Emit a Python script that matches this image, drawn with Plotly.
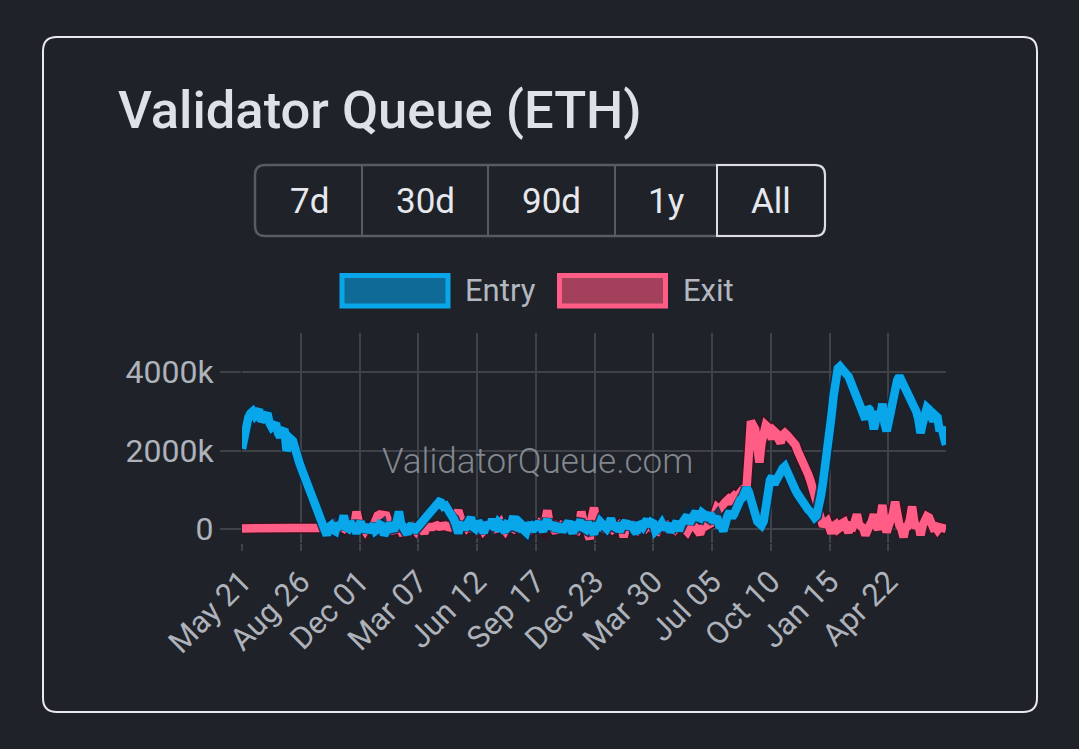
import plotly.graph_objects as go
import pandas as pd

# ---------------- data (values in thousands of ETH, samples every 3.5 days) ----------------
start_date = "2023-05-21"
step = "84h"

entry_k = [
    2050, 2300, 2750, 2850, 2950, 3000, 2900, 2950, 3050, 2750,
    2850, 2950, 2950, 2700, 2600, 2650, 2700, 2450, 2350, 2500,
    2550, 2000, 2150, 2300, 2250, 2000, 1800, 1700, 1550, 1400,
    1250, 1150, 1000, 800, 650, 600, 450, 300, 150, 50,
    -150, 60, 100, -20, -50, 150, 80, 120, 350, 50,
    20, 180, 120, 30, -100, 60, 200, -50, 50, 100,
    -80, 50, 130, -40, 0, 120, 90, -150, -60, 100,
    150, 20, 30, 200, 450, 150, 80, -20, -120, 60,
    120, -60, 0, 100, 180, 250, 300, 350, 420, 500,
    550, 600, 620, 700, 680, 580, 600, 520, 430, 300,
    250, 100, -100, 80, 150, 0, 80, 200, 300, 60,
    20, 130, 140, 40, -90, 100, 110, 50, 260, 60,
    40, 180, 130, 0, -60, 110, 80, 150, 330, 60,
    40, 170, 120, -30, -80, 90, 100, -40, 20, 140,
    180, 40, -50, 120, 250, 30, 60, 150, -30, 80,
    110, -60, 10, 130, 200, 20, -100, 90, 70, 160,
    150, 30, 0, 170, 90, -20, -120, 70, 60, 190,
    130, 40, 20, 110, 280, 80, 50, 150, -60, 60,
    110, 200, 30, 120, 160, -30, -90, 100, 120, 60,
    200, 250, 80, 180, 150, -50, 0, 120, 160, 60,
    50, 150, -80, 60, 90, 200, -40, 120, 200, 300,
    350, 150, 250, 400, 450, 300, 280, 420, 380, 250,
    300, 400, 180, 250, 320, 100, 80, -50, 250, 350,
    450, 300, 380, 550, 650, 750, 800, 900, 1050, 950,
    700, 500, 350, 200, 150, 100, 200, 700, 1100, 1250,
    1350, 1150, 1250, 1400, 1450, 1550, 1600, 1450, 1300, 1200,
    1150, 1000, 900, 800, 750, 650, 600, 500, 450, 350,
    300, 350, 550, 850, 1200, 1550, 1900, 2400, 2900, 3400,
    3800, 4100, 4150, 4050, 4050, 3950, 3900, 3750, 3600, 3450,
    3300, 3200, 3150, 2950, 2800, 3100, 3050, 2850, 2550, 2800,
    3000, 2900, 3200, 2700, 2500, 2750, 3100, 3400, 3650, 3800,
    3900, 3800, 3700, 3600, 3450, 3300, 3250, 3150, 3000, 2800,
    2450, 2700, 2900, 3100, 3050, 2800, 2750, 2900, 2850, 2500,
    2600, 2350, 2150,
]

exit_k = [
    20, 20, 20, 20, 20, 20, 20, 20, 20, 20,
    20, 20, 20, 20, 20, 20, 20, 20, 20, 20,
    20, 20, 20, 20, 20, 20, 20, 20, 20, 20,
    20, 20, 20, 20, 20, 20, 20, 20, 20, 20,
    30, 10, 40, 100, -60, 20, 80, 50, 20, 90,
    150, 60, 50, 120, 450, 200, 80, 30, -40, 50,
    60, 20, 100, 300, 350, 380, 380, 350, 350, 200,
    40, -30, -20, 80, 60, -50, -150, 40, 30, 70,
    80, 20, -50, 40, 60, 0, -100, 50, 80, 60,
    60, 90, 100, 70, 80, 100, 90, 60, 50, 120,
    250, 400, 480, 300, 200, 80, 40, 100, -30, 60,
    70, -20, 20, 80, -40, 40, 30, 120, 90, 0,
    20, 60, 160, 40, -30, 80, 50, -20, 10, 90,
    120, 30, -60, 50, 40, 100, 80, 0, 20, 60,
    130, 30, -20, 200, 480, 150, 60, 20, -80, 70,
    40, 110, 100, 20, 0, 80, 60, -30, -40, 90,
    450, 200, 80, -100, -250, 300, 550, 250, 100, 40,
    20, 90, -60, 30, 80, 0, 30, 100, 120, 50,
    -200, 20, 40, 110, 90, 0, -30, 70, 60, 20,
    10, 90, 120, 40, 50, -10, -40, 60, 80, 30,
    20, 90, 60, 10, -20, 50, 40, 120, 100, 0,
    -60, 40, 50, 110, 30, -40, -120, 30, 60, 100,
    80, 150, 250, 400, 550, 500, 600, 650, 700, 750,
    650, 800, 850, 800, 900, 950, 1000, 1050, 1100, 1900,
    2750, 2650, 2550, 2100, 1700, 2200, 2500, 2650, 2600, 2400,
    2300, 2500, 2450, 2300, 2200, 2400, 2450, 2400, 2350, 2300,
    2250, 2150, 2000, 1900, 1750, 1600, 1500, 1400, 1250, 1100,
    900, 700, 450, 250, 80, 150, 200, 50, -100, 80,
    120, 0, 40, 150, 180, 30, -80, 80, 60, 200,
    380, 120, 50, 20, -150, 60, 100, 200, 380, 100,
    0, 250, 620, 150, -80, 100, 200, 400, 700, 300,
    100, 0, -200, 60, 80, 250, 580, 200, 30, 120,
    -150, 100, 330, 330, 300, 120, 40, 60, -20, 50,
    30, 20, 10,
]

tick_dates = ["2023-05-21", "2023-08-26", "2023-12-01", "2024-03-07",
              "2024-06-12", "2024-09-17", "2024-12-23", "2025-03-30",
              "2025-07-05", "2025-10-10", "2026-01-15", "2026-04-22"]
tick_labels = ["May 21", "Aug 26", "Dec 01", "Mar 07", "Jun 12", "Sep 17",
               "Dec 23", "Mar 30", "Jul 05", "Oct 10", "Jan 15", "Apr 22"]
y_tickvals = [0, 2000, 4000]
y_ticktext = ["0", "2000k", "4000k"]
range_buttons = ["7d", "30d", "90d", "1y", "All"]
series_names = ["Entry", "Exit"]
title_text = "Validator Queue (ETH)"
watermark = "ValidatorQueue.com"

dates = pd.date_range(start_date, periods=len(entry_k), freq=step)

# ---------------- styling / geometry ----------------
W, H = 1079, 749
L, R, T, B = 242, 946, 333, 543
BG = "#1f2228"
GRID = "#3f4249"
ENTRY = "#0aa6ea"
EXIT = "#ff5c86"
ENTRY_FILL = "#106a96"
EXIT_FILL = "#a3415d"
FONT = "Roboto"


def px(X):
    return (X - L) / (R - L)


def py(Y):
    return (B - Y) / (B - T)


def rr_path(x0, y0, x1, y1, r, corners=(True, True, True, True)):
    # corners: top-left, top-right, bottom-right, bottom-left (pixel coords, y down)
    tl, tr, br, bl = [r if c else 0 for c in corners]
    pts = []
    pts.append("M %f,%f" % (px(x0 + tl), py(y0)))
    pts.append("L %f,%f" % (px(x1 - tr), py(y0)))
    if tr:
        pts.append("Q %f,%f %f,%f" % (px(x1), py(y0), px(x1), py(y0 + tr)))
    pts.append("L %f,%f" % (px(x1), py(y1 - br)))
    if br:
        pts.append("Q %f,%f %f,%f" % (px(x1), py(y1), px(x1 - br), py(y1)))
    pts.append("L %f,%f" % (px(x0 + bl), py(y1)))
    if bl:
        pts.append("Q %f,%f %f,%f" % (px(x0), py(y1), px(x0), py(y1 - bl)))
    pts.append("L %f,%f" % (px(x0), py(y0 + tl)))
    if tl:
        pts.append("Q %f,%f %f,%f" % (px(x0), py(y0), px(x0 + tl), py(y0)))
    pts.append("Z")
    return " ".join(pts)


fig = go.Figure()

# exit series (shadow + line)
fig.add_trace(go.Scatter(x=dates, y=exit_k, mode="lines", name=series_names[1],
                         line=dict(color="rgba(60,15,30,0.85)", width=11.5),
                         hoverinfo="skip", showlegend=False))
fig.add_trace(go.Scatter(x=dates, y=exit_k, mode="lines", name=series_names[1],
                         line=dict(color=EXIT, width=8.5), showlegend=False))
# entry series (shadow + line)
fig.add_trace(go.Scatter(x=dates, y=entry_k, mode="lines", name=series_names[0],
                         line=dict(color="rgba(8,40,66,0.85)", width=11.5),
                         hoverinfo="skip", showlegend=False))
fig.add_trace(go.Scatter(x=dates, y=entry_k, mode="lines", name=series_names[0],
                         line=dict(color=ENTRY, width=8.5), showlegend=False))

shapes = []
# card border
shapes.append(dict(type="path", xref="paper", yref="paper",
                   path=rr_path(43, 37, 1037, 712, 14),
                   line=dict(color="#e9eaee", width=2), fillcolor="rgba(0,0,0,0)"))
# button group
shapes.append(dict(type="path", xref="paper", yref="paper",
                   path=rr_path(255, 165, 825, 236, 10),
                   line=dict(color="#585b63", width=2.5), fillcolor="rgba(0,0,0,0)"))
for xd in [362, 488, 615]:
    shapes.append(dict(type="line", xref="paper", yref="paper",
                       x0=px(xd), x1=px(xd), y0=py(166), y1=py(235),
                       line=dict(color="#585b63", width=2)))
shapes.append(dict(type="path", xref="paper", yref="paper",
                   path=rr_path(717, 165, 825, 236, 10, corners=(False, True, True, False)),
                   line=dict(color="#dcdee4", width=2), fillcolor="rgba(0,0,0,0)"))
# legend swatches
shapes.append(dict(type="rect", xref="paper", yref="paper",
                   x0=px(342), x1=px(448), y0=py(275.5), y1=py(306),
                   line=dict(color=ENTRY, width=5), fillcolor=ENTRY_FILL))
shapes.append(dict(type="rect", xref="paper", yref="paper",
                   x0=px(559.5), x1=px(665.5), y0=py(275.5), y1=py(306),
                   line=dict(color=EXIT, width=5), fillcolor=EXIT_FILL))

annotations = []
annotations.append(dict(text=title_text, xref="paper", yref="paper",
                        x=px(116), y=py(110), xanchor="left", yanchor="middle",
                        showarrow=False,
                        font=dict(family=FONT, size=52.5, color="#dfe1e8", weight=500)))
btn_centers = [309, 425, 551, 666, 771]
for lab, cx in zip(range_buttons, btn_centers):
    annotations.append(dict(text=lab, xref="paper", yref="paper",
                            x=px(cx), y=py(201), xanchor="center", yanchor="middle",
                            showarrow=False,
                            font=dict(family=FONT, size=35, color="#e6e8ee")))
annotations.append(dict(text=series_names[0], xref="paper", yref="paper",
                        x=px(463), y=py(290), xanchor="left", yanchor="middle",
                        showarrow=False, font=dict(family=FONT, size=31, color="#b3b7c0")))
annotations.append(dict(text=series_names[1], xref="paper", yref="paper",
                        x=px(681), y=py(290), xanchor="left", yanchor="middle",
                        showarrow=False, font=dict(family=FONT, size=31, color="#b3b7c0")))
annotations.append(dict(text=watermark, xref="paper", yref="paper",
                        x=px(537), y=py(461), xanchor="center", yanchor="middle",
                        showarrow=False,
                        font=dict(family=FONT, size=35, color="rgba(150,154,162,0.85)",
                                  weight=300)))

fig.update_layout(
    width=W, height=H, autosize=False,
    margin=dict(l=L, r=W - R, t=T, b=H - B, pad=0),
    paper_bgcolor=BG, plot_bgcolor=BG,
    showlegend=False, hovermode=False,
    shapes=shapes, annotations=annotations,
    font=dict(family=FONT, color="#b3b7c0"),
)
fig.update_xaxes(
    type="date", range=[dates[0], dates[-1]],
    tickmode="array", tickvals=tick_dates, ticktext=tick_labels, tickangle=-45,
    showgrid=True, gridcolor=GRID, gridwidth=2,
    ticks="outside", ticklen=7, tickwidth=2, tickcolor=GRID,
    zeroline=False, showline=False,
    tickfont=dict(family=FONT, size=31, color="#aeb2bb"),
)
fig.update_yaxes(
    range=[-350, 5000],
    tickmode="array", tickvals=y_tickvals, ticktext=y_ticktext,
    showgrid=True, gridcolor=GRID, gridwidth=2,
    ticks="outside", ticklen=21, tickwidth=2, tickcolor=GRID,
    zeroline=False, showline=False,
    tickfont=dict(family=FONT, size=32, color="#aeb2bb"),
)

fig.write_html("out.html", config={"displayModeBar": False})
